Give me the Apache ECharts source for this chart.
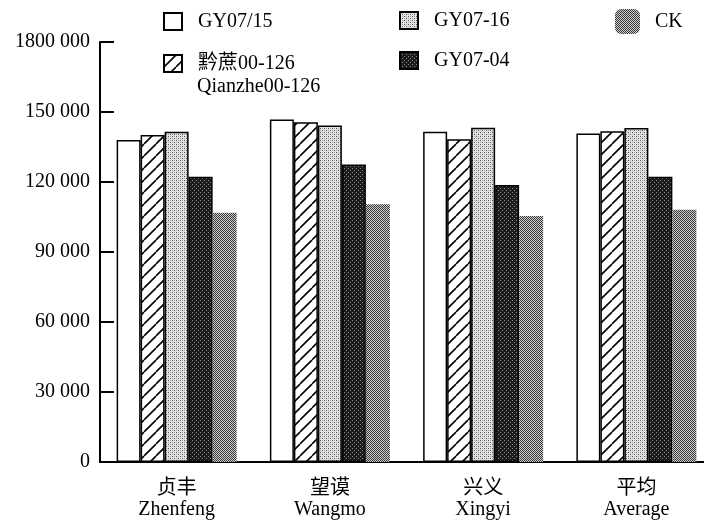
<!DOCTYPE html>
<html><head><meta charset="utf-8">
<script src="https://cdn.jsdelivr.net/npm/echarts@6/dist/echarts.min.js"></script>
<style>html,body{margin:0;padding:0;overflow:hidden;background:#fff}#c{width:720px;height:520px}</style>
</head><body><div id="c"></div>
<script>
const categories = ['贞丰\nZhenfeng', '望谟\nWangmo', '兴义\nXingyi', '平均\nAverage'];
const seriesNames = ['GY07/15', '黔蔗00-126\nQianzhe00-126', 'GY07-16', 'GY07-04', 'CK'];
const gy0715 = [138000, 146800, 141500, 140800];
const qianzhe = [140100, 145600, 138300, 141700];
const gy0716 = [141500, 144200, 143300, 143100];
const gy0704 = [122200, 127500, 118700, 122200];
const ck = [106800, 110500, 105400, 108100];
const yTickLabels = ['0', '30 000', '60 000', '90 000', '120 000', '150 000', '1800 000'];

const FONT = "'Liberation Serif', 'Noto Sans CJK SC', serif";

function tile(size, bg, dots) {
  const c = document.createElement('canvas');
  c.width = size; c.height = size;
  const g = c.getContext('2d');
  g.fillStyle = bg; g.fillRect(0, 0, size, size);
  dots.forEach(d => { g.fillStyle = d[2]; g.fillRect(d[0], d[1], 1, 1); });
  return c;
}
function hatch() {
  const s = 12;
  const c = document.createElement('canvas');
  c.width = s; c.height = s;
  const g = c.getContext('2d');
  g.fillStyle = '#fff'; g.fillRect(0, 0, s, s);
  g.strokeStyle = '#000'; g.lineWidth = 1.6;
  [-s, 0, s].forEach(o => {
    g.beginPath(); g.moveTo(o, s); g.lineTo(o + s, 0); g.stroke();
  });
  return c;
}
const patLight = tile(4, '#e2e2e2', [[0,0,'#555'],[2,2,'#555'],[2,0,'#aaa'],[0,2,'#aaa']]);
const patDark = tile(4, '#1c1c1c', [[0,0,'#8a8a8a'],[2,2,'#8a8a8a']]);
const patCK = tile(2, '#cccccc', [[0,0,'#3a3a3a'],[1,1,'#3a3a3a']]);
const patHatch = hatch();

const styles = [
  { color: '#fff', borderColor: '#000', borderWidth: 1.5 },
  { color: { image: patHatch, repeat: 'repeat' }, borderColor: '#000', borderWidth: 1.5 },
  { color: { image: patLight, repeat: 'repeat' }, borderColor: '#000', borderWidth: 1.5 },
  { color: { image: patDark, repeat: 'repeat' }, borderColor: '#000', borderWidth: 1.5 },
  { color: { image: patCK, repeat: 'repeat' }, borderWidth: 0 }
];
const values = [gy0715, qianzhe, gy0716, gy0704, ck];

const txt = { fontSize: 20, fontFamily: FONT, color: '#000' };
const legendBase = {
  padding: 0, itemWidth: 18, itemHeight: 17, icon: 'rect',
  textStyle: Object.assign({}, txt, { padding: [0, 0, 0, 11] })
};
const legends = [
  Object.assign({}, legendBase, { data: [seriesNames[0]], left: 163, top: 11.5 }),
  Object.assign({}, legendBase, { data: [seriesNames[1]], left: 163, top: 53.5,
    formatter: n => n.split('\n')[0] }),
  Object.assign({}, legendBase, { data: [seriesNames[2]], left: 399, top: 10.5 }),
  Object.assign({}, legendBase, { data: [seriesNames[3]], left: 399, top: 50.5 }),
  Object.assign({}, legendBase, { data: [seriesNames[4]], left: 615, top: 9, icon: 'roundRect',
    itemWidth: 25, itemHeight: 25,
    textStyle: Object.assign({}, txt, { padding: [0, 0, 0, 10] }) })
];

const chart = echarts.init(document.getElementById('c'), null, { renderer: 'canvas' });
chart.setOption({
  animation: false,
  backgroundColor: '#fff',
  legend: legends,
  graphic: [{
    type: 'text', left: 197, top: 77,
    style: { text: seriesNames[1].split('\n')[1], fill: '#000', font: '20px ' + FONT }
  }],
  grid: { left: 100, right: 7, top: 42, bottom: 54, containLabel: false },
  xAxis: {
    type: 'category', data: categories, boundaryGap: true,
    axisLine: { lineStyle: { color: '#000', width: 2 } },
    axisTick: { inside: true, length: 17, lineStyle: { color: '#000', width: 1.5 } },
    axisLabel: { color: '#000', fontSize: 20, fontFamily: FONT, lineHeight: 21, margin: 16 }
  },
  yAxis: {
    type: 'value', min: 0, max: 180000, interval: 30000,
    axisLine: { show: true, lineStyle: { color: '#000', width: 2 } },
    axisTick: { show: true, inside: true, length: 14, lineStyle: { color: '#000', width: 2 } },
    splitLine: { show: false },
    axisLabel: { color: '#000', fontSize: 20, fontFamily: FONT, margin: 10,
      formatter: v => yTickLabels[Math.round(v / 30000)] }
  },
  series: seriesNames.map((n, i) => ({
    name: n, type: 'bar', data: values[i], barWidth: 24, barGap: '0%',
    itemStyle: styles[i]
  }))
});
</script></body></html>
